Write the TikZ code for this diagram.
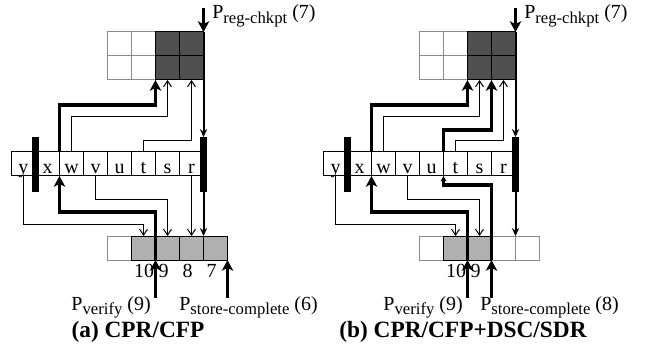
\documentclass[tikz,border=0pt]{standalone}
\usepackage{fontspec}
\setmainfont{Liberation Serif}
\usetikzlibrary{arrows.meta,calc}
\definecolor{darkcell}{HTML}{505050}
\definecolor{midcell}{HTML}{B0B0B0}
\definecolor{paleline}{HTML}{8A8A8A}
\newcommand{\psub}[1]{\raisebox{-3.6pt}{\fontsize{12.5}{14}\selectfont #1}}

\begin{document}
\begin{tikzpicture}[x=.75pt,y=-.75pt,line join=miter,
  txt/.style={font=\fontsize{15}{17}\selectfont,inner sep=0pt},
  captxt/.style={font=\fontsize{17.5}{20}\selectfont\bfseries,inner sep=0pt},
  cell/.style={draw,line width=.75pt,minimum size=18pt,inner sep=0pt,outer sep=0pt,
    font=\fontsize{15}{17}\selectfont,text height=15pt,text depth=0pt},
  emptycell/.style={cell,draw=paleline,fill=white},
  darkbox/.style={cell,fill=darkcell},
  greybox/.style={cell,fill=midcell},
  bar/.style={line width=5pt},
  thinptr/.style={line width=.75pt,-{Straight Barb[length=4.5pt,width=6pt]}},
  boldptr/.style={line width=2.7pt,-{Stealth[length=8pt,width=8.5pt,inset=2pt]}},
  midptr/.style={line width=1.5pt,-{Stealth[length=6pt,width=5.5pt,inset=2pt]}},
  tinyptr/.style={line width=2.7pt,-{Stealth[length=4pt,width=4.5pt,inset=1pt]}}]
  \useasboundingbox (0,0) rectangle (646,356);
  % Both panels share the grids, the queue row and most pointers.
  \foreach \p/\ox/\ng in {a/0/5,b/312/3}{
    \begin{scope}[shift={(\ox,0)}]
      % register checkpoint grid
      \foreach \r/\yy in {1/44,2/68}{
        \node[emptycell] (\p-g\r1) at (119.5,\yy) {};
        \node[emptycell] (\p-g\r2) at (143.5,\yy) {};
        \node[darkbox] (\p-g\r3) at (167.5,\yy) {};
        \node[darkbox] (\p-g\r4) at (191.5,\yy) {};
      }
      % store queue
      \foreach \l [count=\i] in {y,x,w,v,u,t,s,r}
        \node[cell] (\p-\l) at (-.5+24*\i,164) {\l};
      % verify buffer
      \foreach \k in {1,...,5}
        \node[emptycell] (\p-q\k) at (95.5+24*\k,248) {};
      \foreach \k in {2,...,\ng}
        \node[greybox] (\p-q\k) at (95.5+24*\k,248) {};
      \coordinate (\p-pr) at (203.5,8);
      \coordinate (\p-pv) at (155.5,298);
      \coordinate (\p-yt) at ($(\p-y.north east)+(0,-15)$);
      \coordinate (\p-yb) at ($(\p-y.south east)+(0,16)$);
      \coordinate (\p-rt) at ($(\p-r.north east)+(0,-15)$);
      \coordinate (\p-rb) at ($(\p-r.south east)+(0,16)$);
      % head and tail bars
      \draw[bar] (\p-yt) -- (\p-yb);
      \draw[bar] (\p-rt) -- (\p-rb);
      \draw[boldptr] (\p-pr) -- (\p-g14.north east);
      \draw[midptr] (\p-g14.north east) -- (\p-rt);
      \draw[midptr] (\p-rb) -- (\p-q4.north east);
      % into the checkpoint grid
      \draw[boldptr] (\p-x.north east) -- ++(0,-47) -| (\p-g23.south west);
      \draw[thinptr] (\p-w.north) -- ++(0,-35) -| (\p-g23.south);
      \draw[thinptr] (\p-t.north) -- ++(0,-11) -| (\p-g24.south);
      % into the verify buffer
      \draw[thinptr] (\p-y.south) -- ++(0,48) -| (\p-q2.north);
      \draw[thinptr] (\p-v.south) -- ++(0,24) -| (\p-q3.north);
      \draw[boldptr] (\p-pv) -- (\p-q3.south west);
      \draw[boldptr] (\p-q3.south west) -- ++(0,-48) -| (\p-x.south east);
      \node[txt,anchor=base west] (\p-lr) at (212,19) {P\psub{reg-chkpt} (7)};
      \node[txt,anchor=base east] (\p-lv) at (151,310) {P\psub{verify} (9)};
    \end{scope}
  }
  % (a) only
  \draw[thinptr] (a-r.south) -- (a-q4.north);
  \coordinate (a-ps) at (227.5,298);
  \draw[boldptr] (a-ps) -- (a-q5.south east);
  \foreach \k/\n/\xx in {2/10/144,3/9/163.5,4/8/187.5,5/7/211.5}
    \node[txt,anchor=base] (a-n\k) at (\xx,277) {\n};
  \node[txt,anchor=base west] (a-ls) at (179,310) {P\psub{store-complete} (6)};
  \node[captxt,anchor=base] (a-cap) at (138,337) {(a) CPR/CFP};
  % (b) only
  \draw[boldptr] (b-t.north west) -- ++(0,-22) -| (b-g24.south west);
  \coordinate (b-ps) at (491.5,298);
  \draw[boldptr] (b-ps) -- (b-q4.south west);
  \draw[tinyptr] (b-q4.south west) -- ++(0,-75) -| (b-t.south west);
  \foreach \k/\n/\xx in {2/10/456,3/9/475.5}
    \node[txt,anchor=base] (b-n\k) at (\xx,277) {\n};
  \node[txt,anchor=base west] (b-ls) at (480,310) {P\psub{store-complete} (8)};
  \node[captxt,anchor=base] (b-cap) at (463,337) {(b) CPR/CFP+DSC/SDR};
\end{tikzpicture}
\end{document}
